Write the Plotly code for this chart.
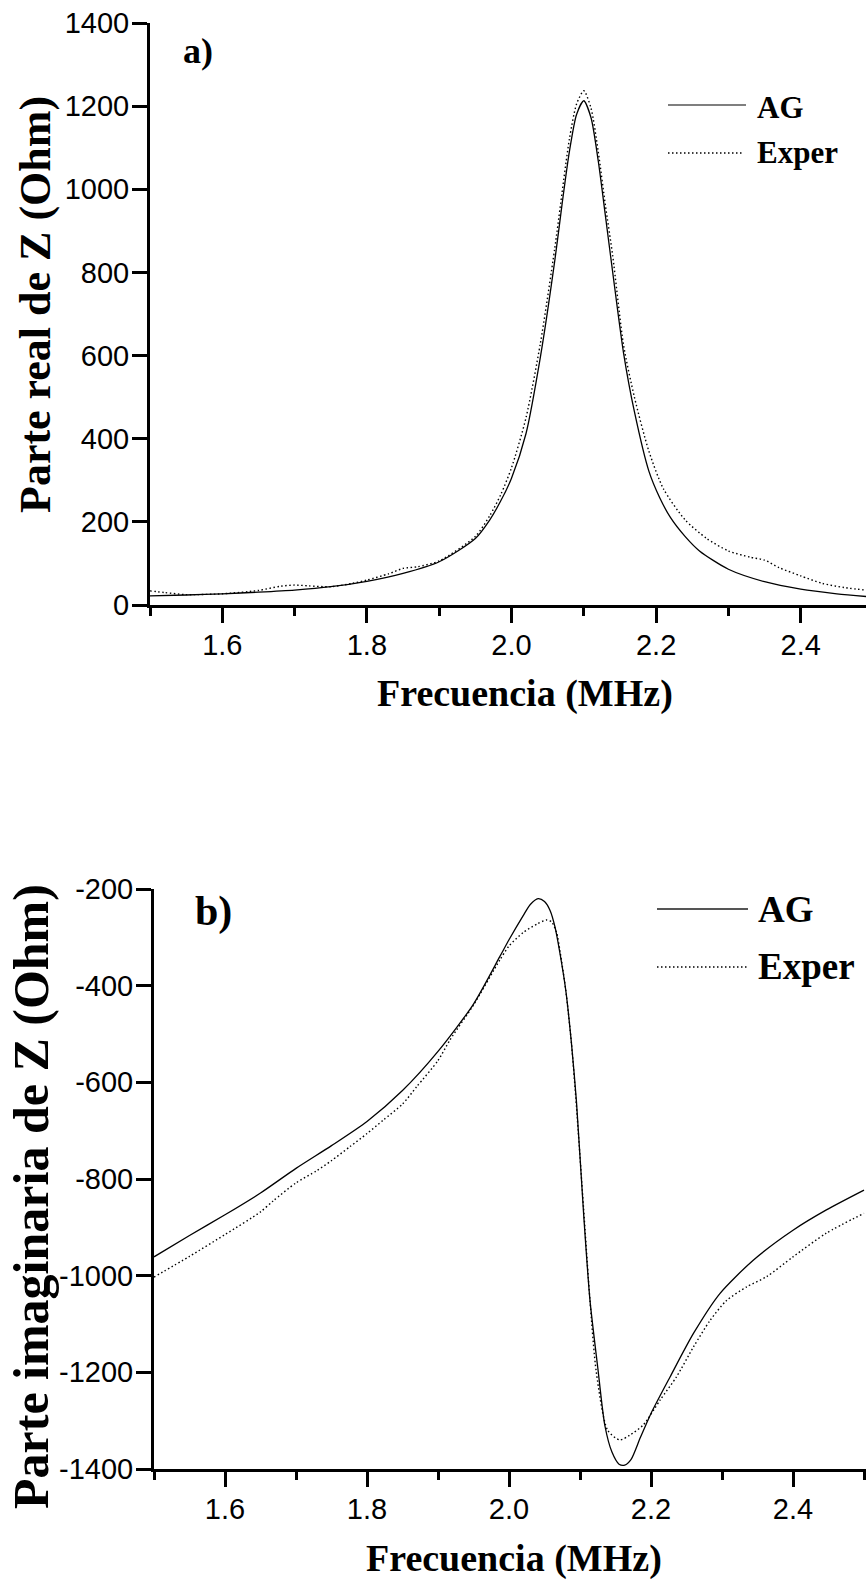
import plotly.graph_objects as go

W, H = 866, 1580

# ---------------- data ----------------
# panel a) real part of Z (Ohm) vs frequency (MHz)
a_ag_f = [1.50, 1.55, 1.60, 1.65, 1.70, 1.75, 1.80, 1.85, 1.90, 1.95, 1.97, 1.985, 2.00, 2.02,
          2.04, 2.06, 2.07, 2.08, 2.09, 2.10, 2.11, 2.12, 2.13, 2.14, 2.155, 2.17, 2.19, 2.205,
          2.22, 2.24, 2.26, 2.30, 2.35, 2.40, 2.45, 2.50]
a_ag_z = [22, 24, 27, 31, 36, 44, 57, 76, 104, 160, 205, 250, 305, 412,
          597, 830, 965, 1090, 1180, 1213, 1172, 1068, 935, 800, 606, 465, 322, 258,
          210, 165, 130, 86, 56, 38, 27, 19]

a_ex_f = [1.50, 1.52, 1.55, 1.60, 1.65, 1.68, 1.70, 1.72, 1.75, 1.78, 1.80, 1.83, 1.85, 1.87,
          1.90, 1.95, 1.97, 1.985, 2.00, 2.02, 2.04, 2.06, 2.08, 2.09, 2.10, 2.11, 2.12, 2.13,
          2.14, 2.155, 2.17, 2.19, 2.21, 2.24, 2.27, 2.30, 2.33, 2.35, 2.37, 2.40, 2.43, 2.46,
          2.50]
a_ex_z = [34, 30, 25, 27, 35, 45, 48, 46, 44, 52, 60, 75, 88, 92,
          106, 165, 215, 265, 330, 450, 630, 860, 1120, 1205, 1237, 1195, 1090, 960,
          840, 625, 500, 370, 280, 205, 160, 130, 115, 108, 90, 70, 52, 42,
          34]

# panel b) imaginary part of Z (Ohm) vs frequency (MHz)
b_ag_f = [1.50, 1.55, 1.60, 1.65, 1.70, 1.75, 1.80, 1.85, 1.90, 1.95, 1.987, 2.00, 2.02, 2.03,
          2.041, 2.05, 2.058, 2.065, 2.072, 2.08, 2.088, 2.095, 2.105, 2.114, 2.125, 2.135,
          2.145, 2.155, 2.163, 2.172, 2.185, 2.20, 2.227, 2.26, 2.297, 2.344, 2.40, 2.447, 2.50]
b_ag_z = [-961, -917, -874, -829, -778, -731, -681, -617, -536, -438, -340, -305, -255, -232,
          -220, -226, -245, -280, -335, -410, -520, -640, -870, -1050, -1190, -1310,
          -1365, -1390, -1392, -1380, -1335, -1285, -1209, -1119, -1037, -968, -906, -864, -823]

b_ex_f = [1.50, 1.55, 1.60, 1.65, 1.668, 1.70, 1.729, 1.75, 1.776, 1.80, 1.823, 1.85, 1.87,
          1.90, 1.917, 1.95, 1.987, 2.00, 2.02, 2.04, 2.053, 2.060, 2.067, 2.072, 2.08, 2.088,
          2.095, 2.105, 2.114, 2.123, 2.139, 2.156, 2.17, 2.189, 2.213, 2.236, 2.26, 2.283,
          2.306, 2.335, 2.363, 2.40, 2.447, 2.50]
b_ex_z = [-1003, -960, -915, -868, -845, -808, -783, -762, -733, -706, -678, -645, -609,
          -555, -512, -440, -347, -318, -290, -272, -264, -268, -290, -330, -410, -520,
          -650, -860, -1050, -1200, -1320, -1340, -1330, -1309, -1257, -1209, -1147, -1093,
          -1052, -1023, -1002, -961, -912, -871]

a_yticks = [0, 200, 400, 600, 800, 1000, 1200, 1400]
a_yticktext = ["0", "200", "400", "600", "800", "1000", "1200", "1400"]
b_yticks = [-200, -400, -600, -800, -1000, -1200, -1400]
b_yticktext = ["-200", "-400", "-600", "-800", "-1000", "-1200", "-1400"]
x_ticks = [1.6, 1.8, 2.0, 2.2, 2.4]
x_ticktext = ["1.6", "1.8", "2.0", "2.2", "2.4"]

legend_names = ["AG", "Exper"]
panel_labels = ["a)", "b)"]
x_title = "Frecuencia (MHz)"
a_y_title = "Parte real de Z (Ohm)"
b_y_title = "Parte imaginaria de Z (Ohm)"

# ---------------- helpers ----------------
def px(x):
    return x / W

def py(y):
    return 1 - y / H

SERIF = "Liberation Serif, Times New Roman, serif"
SANS = "Liberation Sans, Arial, sans-serif"
DOT = "1.5px,2.5px"

fig = go.Figure()

solid = dict(color="black", width=1.3)
dotted = dict(color="black", width=1.4, dash=DOT)

fig.add_trace(go.Scatter(x=a_ag_f, y=a_ag_z, mode="lines", line=dict(shape="spline", smoothing=0.7, **solid),
                         xaxis="x", yaxis="y", showlegend=False, name=legend_names[0]))
fig.add_trace(go.Scatter(x=a_ex_f, y=a_ex_z, mode="lines", line=dict(shape="spline", smoothing=0.7, **dotted),
                         xaxis="x", yaxis="y", showlegend=False, name=legend_names[1]))
fig.add_trace(go.Scatter(x=b_ag_f, y=b_ag_z, mode="lines", line=dict(shape="spline", smoothing=0.7, **solid),
                         xaxis="x2", yaxis="y2", showlegend=False, name=legend_names[0]))
fig.add_trace(go.Scatter(x=b_ex_f, y=b_ex_z, mode="lines", line=dict(shape="spline", smoothing=0.7, **dotted),
                         xaxis="x2", yaxis="y2", showlegend=False, name=legend_names[1]))

common_x = dict(
    tickvals=x_ticks, ticktext=x_ticktext, ticks="outside", ticklen=15, tickwidth=2.5,
    tickcolor="black", showline=True, linewidth=3, linecolor="black", showgrid=False,
    zeroline=False, tickfont=dict(family=SANS, size=29, color="black"), ticklabelstandoff=-3,
    automargin=False,
    minor=dict(dtick=0.1, tick0=1.5, ticks="outside", ticklen=8, tickwidth=2.5, tickcolor="black", showgrid=False),
)
common_y = dict(
    ticks="outside", ticklen=15, tickwidth=2.5, tickcolor="black", showline=True,
    linewidth=3, linecolor="black", showgrid=False, zeroline=False, automargin=False,
    tickfont=dict(family=SANS, size=29, color="black"), ticklabelstandoff=-3,
)

fig.update_layout(
    template="none",
    width=W, height=H, margin=dict(l=0, r=0, t=0, b=0, autoexpand=False),
    paper_bgcolor="white", plot_bgcolor="white", showlegend=False,
    xaxis=dict(domain=[px(150), 1], range=[1.5, 1.5 + 716 / 723], anchor="y", **common_x),
    yaxis=dict(domain=[py(605), py(23)], range=[0, 1400], anchor="x",
               tickvals=a_yticks, ticktext=a_yticktext, **common_y),
    xaxis2=dict(domain=[px(154), 1], range=[1.5, 1.5 + 712 / 710], anchor="y2", **common_x),
    yaxis2=dict(domain=[py(1469), py(889)], range=[-1400, -200], anchor="x2",
                tickvals=b_yticks, ticktext=b_yticktext, **common_y),
)

ann = []
def text(x, y, s, size, xanchor="center", angle=0):
    ann.append(dict(x=px(x), y=py(y), xref="paper", yref="paper", text="<b>" + s + "</b>",
                    showarrow=False, xanchor=xanchor, yanchor="middle", textangle=angle,
                    font=dict(family=SERIF, size=size, color="black")))

# axis titles
text(525, 693, x_title, 38)
text(514, 1558, x_title, 38)
text(35, 305, a_y_title, 44, angle=-90)
text(31, 1197, b_y_title, 50, angle=-90)
# panel labels
text(198, 51, panel_labels[0], 36)
text(213, 911, panel_labels[1], 42)
# legends
text(755, 107, legend_names[0], 31, xanchor="left")
text(755, 153, legend_names[1], 31, xanchor="left")
text(756, 910, legend_names[0], 37, xanchor="left")
text(756, 966, legend_names[1], 37, xanchor="left")
fig.update_layout(annotations=ann)

shapes = [
    dict(type="line", xref="paper", yref="paper", x0=px(668), x1=px(746), y0=py(105), y1=py(105),
         line=dict(color="#555", width=1.5)),
    dict(type="line", xref="paper", yref="paper", x0=px(668), x1=px(743), y0=py(153), y1=py(153),
         line=dict(color="black", width=1.3, dash=DOT)),
    dict(type="line", xref="paper", yref="paper", x0=px(657), x1=px(748), y0=py(909), y1=py(909),
         line=dict(color="#555", width=2)),
    dict(type="line", xref="paper", yref="paper", x0=px(657), x1=px(747), y0=py(967), y1=py(967),
         line=dict(color="black", width=1.4, dash=DOT)),
]
fig.update_layout(shapes=shapes)

fig.write_html("out.html")
